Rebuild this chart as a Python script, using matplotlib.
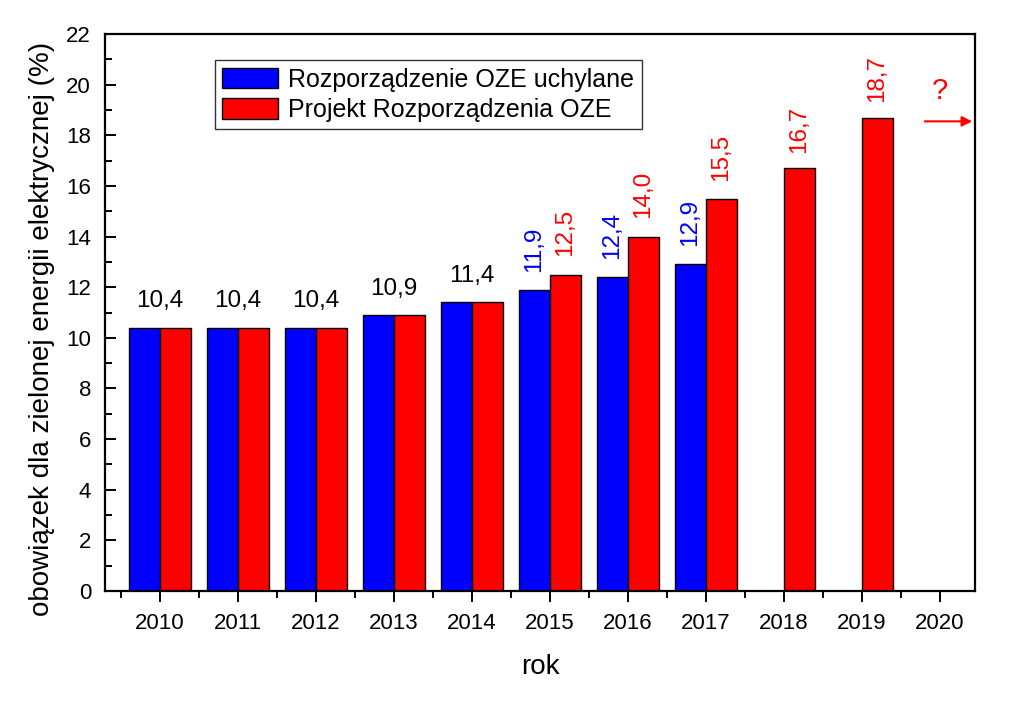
import matplotlib
matplotlib.use("Agg")
import matplotlib.pyplot as plt
from matplotlib.ticker import MultipleLocator, FixedLocator
import numpy as np

plt.rcParams['font.family'] = ['Liberation Sans', 'DejaVu Sans']

years = [2010, 2011, 2012, 2013, 2014, 2015, 2016, 2017, 2018, 2019, 2020]
old_years = [2010, 2011, 2012, 2013, 2014, 2015, 2016, 2017]
old_vals = [10.4, 10.4, 10.4, 10.9, 11.4, 11.9, 12.4, 12.9]
new_years = [2010, 2011, 2012, 2013, 2014, 2015, 2016, 2017, 2018, 2019]
new_vals = [10.4, 10.4, 10.4, 10.9, 11.4, 12.5, 14.0, 15.5, 16.7, 18.7]
old_label = "Rozporządzenie OZE uchylane"
new_label = "Projekt Rozporządzenia OZE"

BLUE = "#0000ff"
RED = "#ff0000"

fig = plt.figure(figsize=(10.24, 7.08), dpi=100)
ax = fig.add_axes([105/1024, 1-591/708, (975-105)/1024, (591-34)/708])

w = 0.4
ax.bar(np.array(old_years) - w/2, old_vals, width=w, color=BLUE, edgecolor='black', linewidth=1, label=old_label)
ax.bar(np.array(new_years) + w/2, new_vals, width=w, color=RED, edgecolor='black', linewidth=1, label=new_label)

fmt = lambda v: f"{v:.1f}".replace('.', ',')
fs = 17.5
off = 11
for y, o, n in zip(old_years, old_vals, new_vals):
    if o == n:
        ax.annotate(fmt(o), (y, o), xytext=(0, off), textcoords='offset points',
                    ha='center', va='bottom', fontsize=fs, color='black')
    else:
        ax.annotate(fmt(o), (y - w/2, o), xytext=(0, off + 2), textcoords='offset points',
                    ha='center', va='bottom', fontsize=fs, color=BLUE, rotation=90)
        ax.annotate(fmt(n), (y + w/2, n), xytext=(0, off + 2), textcoords='offset points',
                    ha='center', va='bottom', fontsize=fs, color=RED, rotation=90)
for y, n in zip(new_years[len(old_years):], new_vals[len(old_years):]):
    ax.annotate(fmt(n), (y + w/2, n), xytext=(0, off), textcoords='offset points',
                ha='center', va='bottom', fontsize=fs, color=RED, rotation=90)

# question mark and arrow for 2020
ax.annotate("", xy=(2020.45, 18.55), xytext=(2019.77, 18.55),
            arrowprops=dict(arrowstyle='-|>', color=RED, lw=1.5, mutation_scale=15),
            annotation_clip=False)
ax.text(2020.0, 19.2, "?", color=RED, fontsize=21, ha='center', va='bottom')

ax.set_xlim(2009.295, 2020.45)
ax.set_ylim(0, 22)
ax.set_xticks(years)
ax.set_xticklabels([str(y) for y in years])
ax.xaxis.set_minor_locator(FixedLocator(np.arange(2009.5, 2021, 1)))
ax.yaxis.set_major_locator(MultipleLocator(2))
ax.yaxis.set_minor_locator(MultipleLocator(1))
ax.tick_params(axis='x', which='major', direction='out', length=8, width=1.4, labelsize=16, pad=8)
ax.tick_params(axis='x', which='minor', direction='out', length=5, width=1.4)
ax.tick_params(axis='y', which='major', direction='in', length=8, width=1.4, labelsize=16, pad=10)
ax.tick_params(axis='y', which='minor', direction='in', length=5, width=1.4)
for s in ax.spines.values():
    s.set_linewidth(1.6)

ax.set_xlabel("rok", fontsize=20, labelpad=14)
ax.set_ylabel("obowiązek dla zielonej energii elektrycznej (%)", fontsize=20)
ax.yaxis.set_label_coords(-0.057, 0.47)

leg = ax.legend(loc='upper left', bbox_to_anchor=(0.126, 0.953), fontsize=18, frameon=True,
                fancybox=False, edgecolor='black', handlelength=2.25, handleheight=0.9,
                borderpad=0.3, labelspacing=0.25, handletextpad=0.4, borderaxespad=0)
leg.get_frame().set_linewidth(1.0)

fig.savefig("out.png", dpi=100)
